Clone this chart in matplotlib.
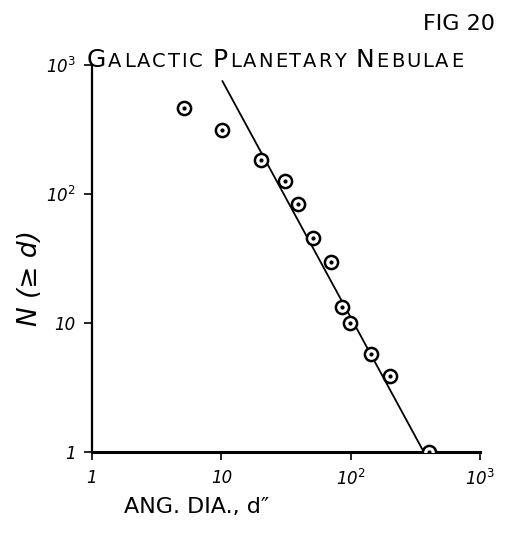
import numpy as np
import matplotlib.pyplot as plt

# cumulative counts of galactic planetary nebulae with angular diameter >= d
ang_dia = [5.1, 10.2, 20.4, 31.3, 39.5, 50.8, 70, 85, 98, 143, 200, 400]
n_cum = [464, 313, 184, 126, 84, 46, 30, 13.3, 10, 5.75, 3.9, 1]

# power-law fit drawn through the points
fit_d = [10.2, 368]
fit_n = [750, 1]

x_ticks = [1, 10, 100, 1000]
x_labels = ['1', '10', r'10$^2$', r'10$^3$']
y_ticks = [1, 10, 100, 1000]
y_labels = ['1', '10', r'10$^2$', r'10$^3$']

# title in small caps: (text, size) pieces
title_parts = [('G', 18), ('ALACTIC ', 14), ('P', 18), ('LANETARY ', 14),
               ('N', 18), ('EBULAE', 14)]

plt.rcParams['font.family'] = ['DejaVu Sans']

fig = plt.figure(figsize=(5.18, 5.35), dpi=100)
ax = fig.add_axes([0.1776, 0.155, 0.749, 0.7234])

ax.plot(fit_d, fit_n, color='black', lw=1.3, zorder=2)
ax.scatter(ang_dia, n_cum, s=90, facecolors='white', edgecolors='black',
           linewidths=1.8, zorder=3)
ax.scatter(ang_dia, n_cum, s=4, color='black', zorder=4)

ax.set_xscale('log')
ax.set_yscale('log')
ax.set_xlim(1, 1000)
ax.set_ylim(1, 1000)

for side in ['top', 'right']:
    ax.spines[side].set_visible(False)
ax.spines['left'].set_linewidth(1.6)
ax.spines['bottom'].set_linewidth(2.2)

ax.set_xticks(x_ticks)
ax.set_xticklabels(x_labels, fontsize=12, style='italic')
ax.set_yticks(y_ticks)
ax.set_yticklabels(y_labels, fontsize=12, style='italic')
ax.minorticks_off()
ax.tick_params(axis='both', direction='out', length=6, width=1.2, pad=6)

ax.set_xlabel('ANG. DIA., d\u2033', fontsize=16, labelpad=6, x=0.27)
ax.set_ylabel('N (\u2265 d)', fontsize=19, labelpad=2, y=0.45, style='italic')

# title letters placed one by one with a little extra tracking
x0 = 0.168
gap = 2.0 / fig.bbox.width
renderer = fig.canvas.get_renderer()
for txt, size in title_parts:
    for ch in txt:
        if ch == ' ':
            x0 += 8.0 / fig.bbox.width
            continue
        t = fig.text(x0, 0.875, ch, fontsize=size, ha='left', va='baseline')
        bb = t.get_window_extent(renderer=renderer)
        x0 += bb.width / fig.bbox.width + gap

fig.text(0.955, 0.955, 'FIG 20', fontsize=16, ha='right', va='center')

fig.savefig('out.png', dpi=100, facecolor='white')
